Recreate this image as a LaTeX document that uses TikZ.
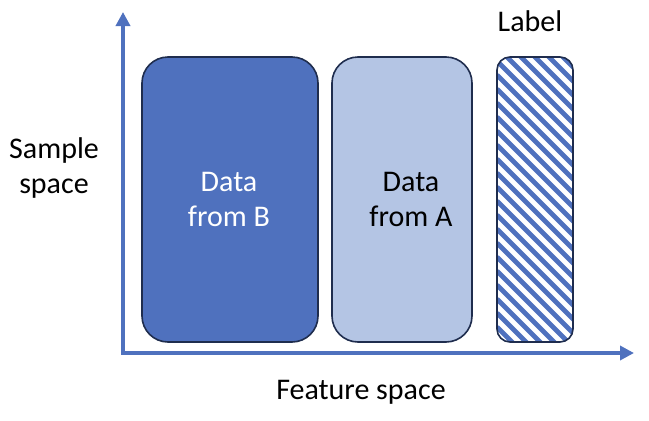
\documentclass[tikz,border=0pt]{standalone}
\usepackage{fontspec}
\setmainfont{Carlito}
\usetikzlibrary{arrows.meta}
\definecolor{darkfill}{HTML}{4F71BE}
\definecolor{lightfill}{HTML}{B4C5E4}
\definecolor{edgec}{HTML}{1F2D4E}
\definecolor{axisc}{HTML}{4F71BE}
\tikzset{
  axisline/.style={draw=axisc, line width=4pt, -{Triangle[width=14pt,length=14pt]}},
  databox/.style={draw=edgec, line width=1.6pt, rounded corners=26pt},
  lbl/.style={font=\fontsize{30}{35}\selectfont, align=center, inner sep=0pt},
}
\begin{document}
\begin{tikzpicture}[x=1pt,y=-1pt]
\useasboundingbox (0,0) rectangle (649,421);
% axes
\coordinate (o) at (123,353);
\coordinate (ytip) at (123,12);
\coordinate (xtip) at (634,353);
\draw[axisline] ([yshift=2pt]o) -- (ytip);
\draw[axisline] ([xshift=-2pt]o) -- (xtip);
% boxes
\draw[databox, fill=darkfill] (142,57) rectangle (318,342);
\node[lbl, text=white] (b) at (229,199) {Data\\from B};
\draw[databox, fill=lightfill] (332,57) rectangle (472,342);
\node[lbl, text=black] (a) at (411,199) {Data\\from A};
% label box
\begin{scope}
\clip[rounded corners=13pt] (497,57) rectangle (573,342);
\fill[white] (497,57) rectangle (573,342);
\foreach \k in {-8,...,26} {
  \draw[axisc, line width=4.6pt] (497,{57+14*\k-80}) -- ++(120,120);
}
\end{scope}
\draw[edgec, line width=1.6pt, rounded corners=13pt] (497,57) rectangle (573,342);
\node[lbl] (lab) at (530,21) {Label};
\node[lbl] (ss) at (54,168) {Sample\\space};
\node[lbl] (fs) at (361,392) {Feature space};
\end{tikzpicture}
\end{document}
